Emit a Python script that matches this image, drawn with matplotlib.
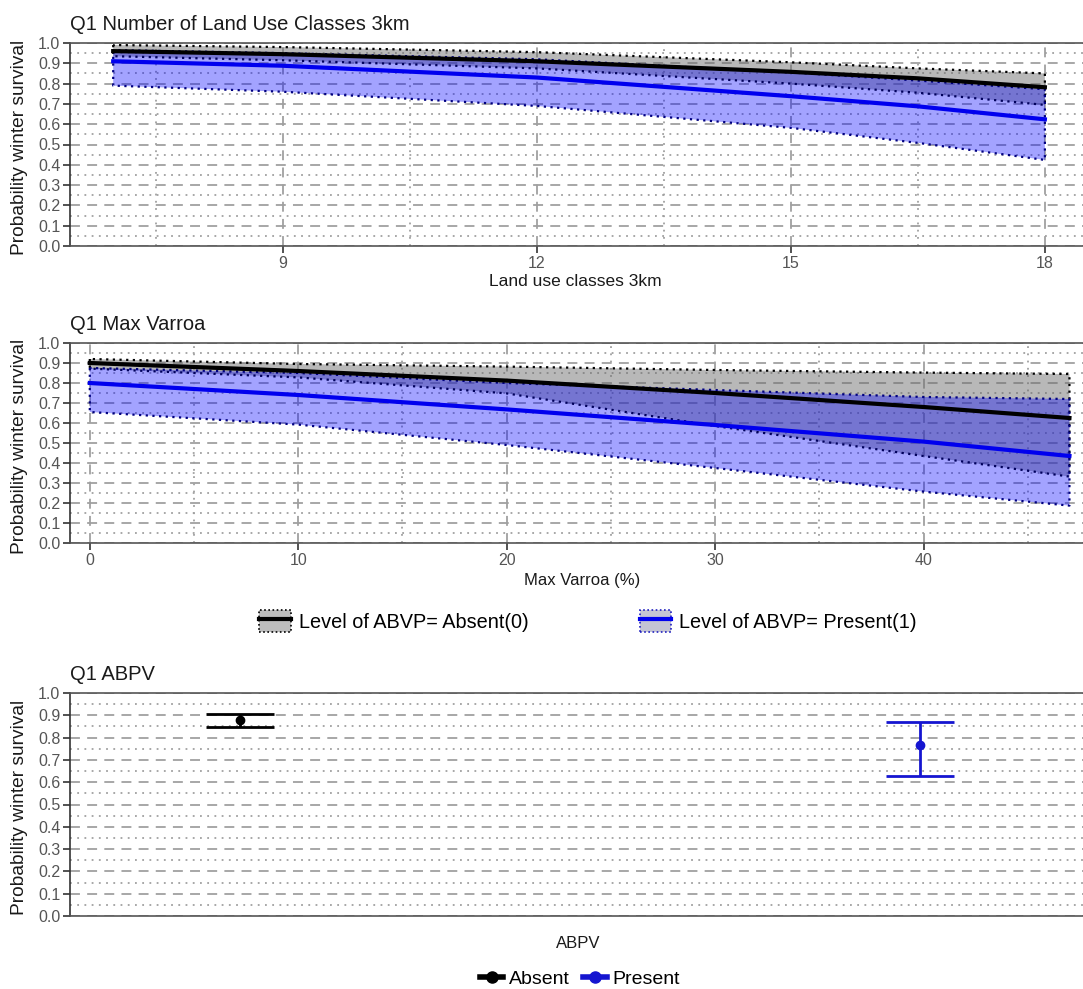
import matplotlib
matplotlib.use('Agg')
import matplotlib.pyplot as plt
from matplotlib.patches import Patch
from matplotlib.lines import Line2D
from matplotlib.ticker import MultipleLocator, FixedLocator, NullFormatter

plt.rcParams['font.family'] = ['Liberation Sans', 'DejaVu Sans']

# ---------------- data ----------------
land_x = [7, 9, 12, 15, 16.5, 18]
land_abs_fit = [0.960, 0.945, 0.910, 0.858, 0.826, 0.782]
land_abs_hi = [0.990, 0.980, 0.955, 0.905, 0.875, 0.850]
land_abs_lo = [0.935, 0.915, 0.875, 0.800, 0.755, 0.695]
land_pre_fit = [0.910, 0.888, 0.830, 0.738, 0.688, 0.624]
land_pre_hi = [0.965, 0.950, 0.920, 0.855, 0.815, 0.772]
land_pre_lo = [0.790, 0.760, 0.690, 0.582, 0.508, 0.424]
land_ticks = [9, 12, 15, 18]

varroa_x = [0, 10, 20, 30, 40, 47]
var_abs_fit = [0.900, 0.860, 0.812, 0.750, 0.680, 0.625]
var_abs_hi = [0.920, 0.895, 0.882, 0.865, 0.852, 0.845]
var_abs_lo = [0.872, 0.828, 0.748, 0.585, 0.435, 0.332]
var_pre_fit = [0.800, 0.740, 0.668, 0.590, 0.507, 0.435]
var_pre_hi = [0.875, 0.850, 0.800, 0.765, 0.730, 0.720]
var_pre_lo = [0.655, 0.592, 0.490, 0.375, 0.257, 0.187]
varroa_ticks = [0, 10, 20, 30, 40]

abpv_levels = ['Absent', 'Present']
abpv_fit = [0.880, 0.767]
abpv_lo = [0.848, 0.628]
abpv_hi = [0.905, 0.870]

y_ticks = [0.0, 0.1, 0.2, 0.3, 0.4, 0.5, 0.6, 0.7, 0.8, 0.9, 1.0]

# ---------------- styling ----------------
W, H = 1083, 989
GRID = '#a0a0a0'
TICKC = '#555555'
GREY_FILL = (0.42, 0.42, 0.42, 0.48)
BLUE_FILL = (0.0, 0.0, 1.0, 0.36)
BLUE = '#0000ee'
EB_BLUE = '#1515d0'

fig = plt.figure(figsize=(W / 100, H / 100), dpi=100)


def rect(top, bottom, left=70, right=W):
    return [left / W, 1 - bottom / H, (right - left) / W, (bottom - top) / H]


def style_axes(ax, xmajor=None, xminor=None):
    ax.set_ylim(0, 1)
    ax.yaxis.set_major_locator(FixedLocator(y_ticks))
    ax.yaxis.set_minor_locator(MultipleLocator(0.05))
    ax.set_yticklabels(['%.1f' % v for v in y_ticks])
    ax.grid(which='major', axis='y', color=GRID, linestyle=(0, (5.5, 4)), linewidth=1.3)
    ax.grid(which='minor', axis='y', color=GRID, linestyle=(0, (1, 3)), linewidth=1.3)
    if xmajor is not None:
        ax.xaxis.set_major_locator(FixedLocator(xmajor))
        ax.xaxis.set_minor_locator(FixedLocator(xminor))
        ax.xaxis.set_minor_formatter(NullFormatter())
        ax.grid(which='major', axis='x', color=GRID, linestyle=(0, (5.5, 4)), linewidth=1.3)
        ax.grid(which='minor', axis='x', color=GRID, linestyle=(0, (1, 3)), linewidth=1.3)
    ax.set_axisbelow(True)
    ax.tick_params(axis='both', which='major', direction='out', length=5, width=1.2,
                   color='#333333', labelcolor=TICKC, labelsize=11.5, pad=2)
    ax.tick_params(axis='both', which='minor', length=0)
    for s in ax.spines.values():
        s.set_color('#555555')
        s.set_linewidth(1.2)
    ax.spines['right'].set_visible(False)
    ax.spines['left'].set_color('#333333')


def band(ax, x, lo, hi, face, edge):
    ax.fill_between(x, lo, hi, facecolor=face, edgecolor=edge,
                    linestyle=(0, (1, 2)), linewidth=1.6)


# ---------- Panel 1 ----------
ax1 = fig.add_axes(rect(43, 246))
style_axes(ax1, land_ticks, [7.5, 10.5, 13.5, 16.5])
ax1.set_xlim(6.49, 18.45)
band(ax1, land_x, land_abs_lo, land_abs_hi, GREY_FILL, 'black')
band(ax1, land_x, land_pre_lo, land_pre_hi, BLUE_FILL, '#000080')
ax1.plot(land_x, land_abs_fit, color='black', lw=3)
ax1.plot(land_x, land_pre_fit, color=BLUE, lw=3)
ax1.set_xticklabels([str(t) for t in land_ticks])

# ---------- Panel 2 ----------
ax2 = fig.add_axes(rect(343, 543))
style_axes(ax2, varroa_ticks, [5, 15, 25, 35, 45])
ax2.set_xlim(-0.95, 47.65)
band(ax2, varroa_x, var_abs_lo, var_abs_hi, GREY_FILL, 'black')
band(ax2, varroa_x, var_pre_lo, var_pre_hi, BLUE_FILL, '#000080')
ax2.plot(varroa_x, var_abs_fit, color='black', lw=3)
ax2.plot(varroa_x, var_pre_fit, color=BLUE, lw=3)
ax2.set_xticklabels([str(t) for t in varroa_ticks])

# ---------- Panel 3 ----------
ax3 = fig.add_axes(rect(693, 916))
style_axes(ax3)
ax3.set_xlim(-0.25, 1.24)
ax3.set_xticks([])
eb_cols = ['black', EB_BLUE]
for i, (lvl, f, lo, hi) in enumerate(zip(abpv_levels, abpv_fit, abpv_lo, abpv_hi)):
    ax3.errorbar([i], [f], yerr=[[f - lo], [hi - f]], fmt='o', color=eb_cols[i],
                 ecolor=eb_cols[i], elinewidth=2, capthick=2, capsize=24.5, ms=6)

# ---------- texts ----------
def ftext(x, y, s, **kw):
    fig.text(x / W, 1 - y / H, s, **kw)

ftext(70, 24, 'Q1 Number of Land Use Classes 3km', fontsize=14.5, va='center', ha='left', color='#1a1a1a')
ftext(70, 325, 'Q1 Max Varroa', fontsize=14.5, va='center', ha='left', color='#1a1a1a')
ftext(70, 675, 'Q1 ABPV', fontsize=14.5, va='center', ha='left', color='#1a1a1a')

for yc in [(43 + 246) / 2 + 3, (343 + 543) / 2 + 3, (693 + 916) / 2 + 3]:
    ftext(20, yc, 'Probability winter survival', fontsize=13.8, rotation=90,
          va='center', ha='center', color='#1a1a1a')

ftext(575, 281, 'Land use classes 3km', fontsize=12.5, ha='center', va='center', color='#1a1a1a')
ftext(582, 580, 'Max Varroa (%)', fontsize=12, ha='center', va='center', color='#1a1a1a')
ftext(578, 943, 'ABPV', fontsize=12, ha='center', va='center', color='#1a1a1a')

# legend for the two line panels
h_abs = (Patch(facecolor='#bdbdbd', edgecolor='black', linestyle=(0, (1, 1.5)), linewidth=1.2),
         Line2D([], [], color='black', lw=3))
h_pre = (Patch(facecolor='#c4c4d4', edgecolor='#2020c0', linestyle=(0, (1, 1.5)), linewidth=1.2),
         Line2D([], [], color=BLUE, lw=3))
fig.legend([h_abs, h_pre], ['Level of ABVP= Absent(0)', 'Level of ABVP= Present(1)'],
           loc='center', bbox_to_anchor=(588 / W, 1 - 621 / H), ncol=2, frameon=False,
           fontsize=14.3, handlelength=1.6, handleheight=1.4, handletextpad=0.4,
           columnspacing=5.6)

# legend for the ABPV panel
h1 = Line2D([], [], color='black', marker='o', lw=4, ms=8)
h2 = Line2D([], [], color=EB_BLUE, marker='o', lw=4, ms=8)
fig.legend([h1, h2], abpv_levels, loc='center', bbox_to_anchor=(580 / W, 1 - 979 / H),
           ncol=2, frameon=False, fontsize=14, handlelength=1.2, handletextpad=0.3,
           columnspacing=0.7)

fig.savefig('out.png', dpi=100)
